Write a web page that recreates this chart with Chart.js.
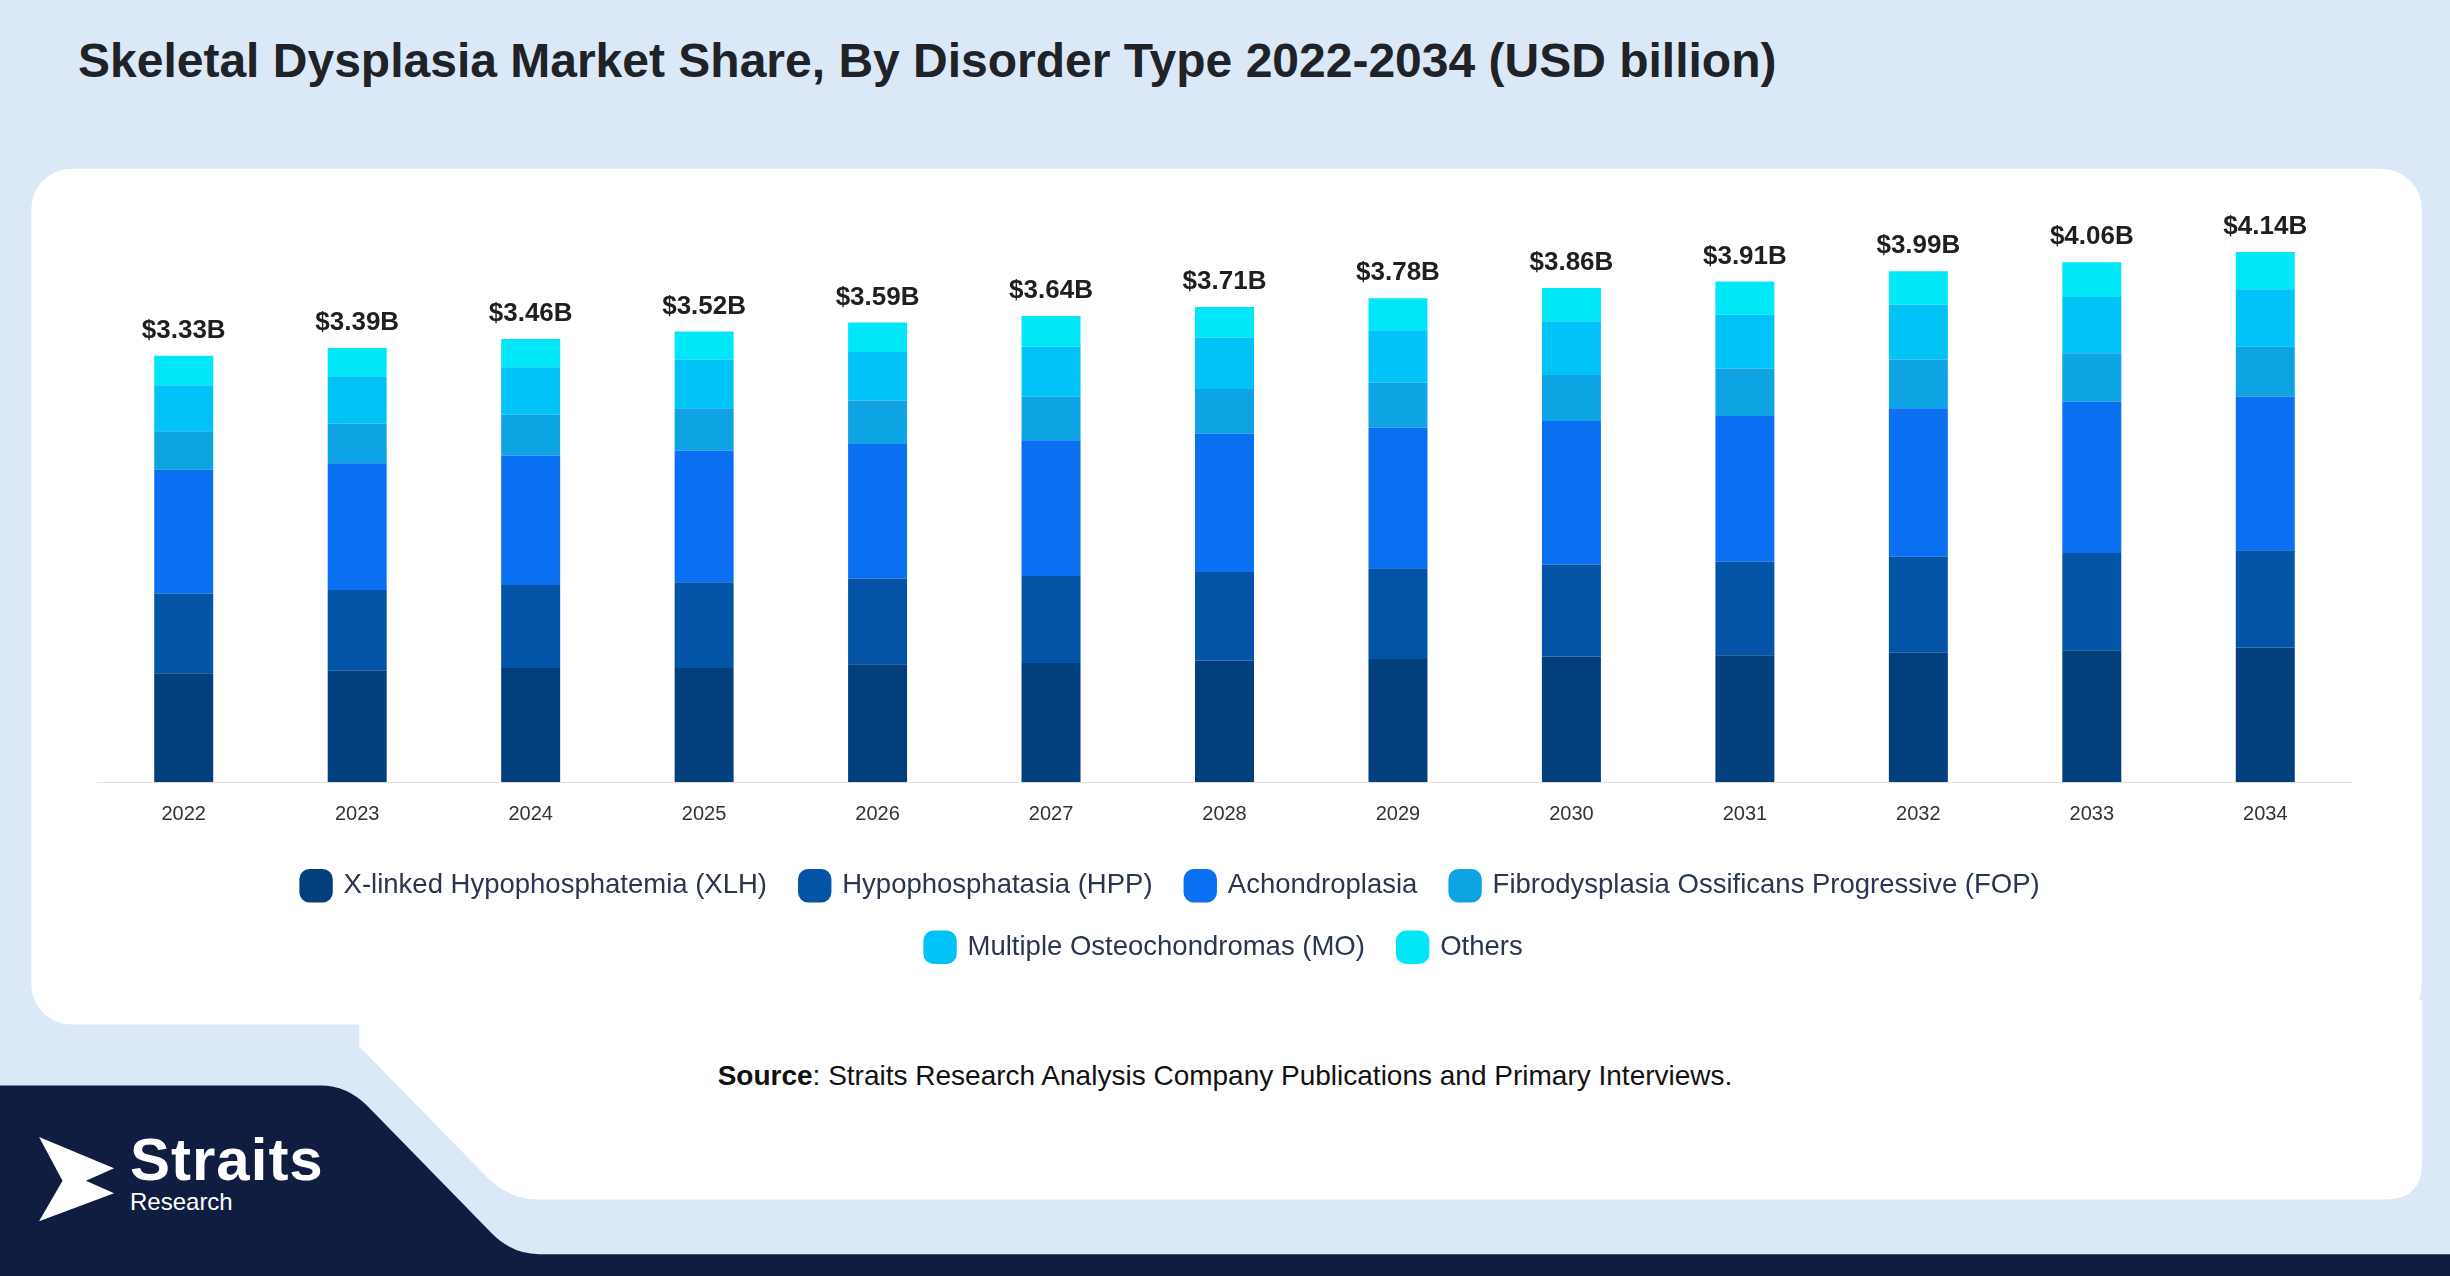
<!DOCTYPE html>
<html><head><meta charset="utf-8">
<script src="https://cdn.jsdelivr.net/npm/chart.js@4.4.1/dist/chart.umd.min.js"></script>
<style>
html,body{margin:0;padding:0;width:2450px;height:1276px;overflow:hidden;background:#dbe8f8;font-family:"Liberation Sans",Arial,sans-serif}
#bg{position:absolute;left:0;top:0;width:2450px;height:1276px}
#title{position:absolute;left:78px;top:33px;font-size:48px;font-weight:bold;color:#1f2328}
#wrap{position:absolute;left:0;top:6px;width:2450px;height:975px}
#src{position:absolute;left:0;width:2450px;top:1060px;text-align:center;font-size:28px;color:#111}
#logo{position:absolute;left:36px;top:1125px;color:#fff}
</style></head><body>
<svg id="bg" viewBox="0 0 1568 817" preserveAspectRatio="none">
<rect x="0" y="0" width="1568" height="817" fill="#dbe8f8"/>
<rect x="20" y="108" width="1530" height="548" rx="26" fill="#fff"/>
<path d="M230 640 L1550 640 L1550 745 Q1550 768 1527 768 L345 768 Q325 768 310 752 L230 670 Z" fill="#fff"/>
<path d="M0 695 L205 695 Q222 695 235 708 L315 790 Q328 803 345 803 L1568 803 L1568 817 L0 817 Z" fill="#101c40"/>
<path d="M25 728 L73 748 L55 756 L73 764 L25 782 L40 756 Z" fill="#fff"/>
</svg>
<div id="title">Skeletal Dysplasia Market Share, By Disorder Type 2022-2034 (USD billion)</div>
<div id="wrap"><canvas id="c" width="2450" height="975"></canvas></div>
<div id="src"><b>Source</b>: Straits Research Analysis Company Publications and Primary Interviews.</div>
<div id="logo"><div style="position:absolute;left:94px;top:0;font-size:60px;font-weight:bold;letter-spacing:1px">Straits</div><div style="position:absolute;left:94px;top:63px;font-size:24px">Research</div></div>
<script>
const years=["2022","2023","2024","2025","2026","2027","2028","2029","2030","2031","2032","2033","2034"];
const totals=[3.33,3.39,3.46,3.52,3.59,3.64,3.71,3.78,3.86,3.91,3.99,4.06,4.14];
const xlh=[0.85,0.87,0.89,0.89,0.92,0.93,0.95,0.96,0.98,0.99,1.01,1.03,1.05];
const hpp=[0.62,0.63,0.65,0.67,0.67,0.68,0.69,0.71,0.72,0.73,0.75,0.76,0.76];
const ach=[0.97,0.99,1.01,1.03,1.05,1.06,1.08,1.10,1.12,1.14,1.16,1.18,1.20];
const fop=[0.30,0.31,0.32,0.33,0.34,0.34,0.35,0.35,0.36,0.37,0.38,0.38,0.39];
const mo=[0.36,0.37,0.37,0.38,0.38,0.39,0.40,0.41,0.42,0.42,0.43,0.44,0.45];
const others=[0.23,0.22,0.22,0.22,0.23,0.24,0.24,0.25,0.26,0.26,0.26,0.27,0.29];
const names=["X-linked Hypophosphatemia (XLH)","Hypophosphatasia (HPP)","Achondroplasia","Fibrodysplasia Ossificans Progressive (FOP)","Multiple Osteochondromas (MO)","Others"];
const colors=["#033f7c","#0353a6","#0a6ff0","#0ea3e2","#00c3f7","#00e8f7"];
const series=[xlh,hpp,ach,fop,mo,others];
const labelPlugin={id:"totals",afterDatasetsDraw(ch){const ctx=ch.ctx;const meta=ch.getDatasetMeta(5);ctx.save();ctx.font="bold 26px 'Liberation Sans',Arial";ctx.fillStyle="#1f1f1f";ctx.textAlign="center";ctx.textBaseline="bottom";
meta.data.forEach((b,i)=>ctx.fillText("$"+totals[i].toFixed(2)+"B",b.x,b.y-12));ctx.restore();}};
new Chart(document.getElementById("c"),{type:"bar",
data:{labels:years,datasets:series.map((d,i)=>({label:names[i],data:d,backgroundColor:colors[i],barPercentage:0.68,categoryPercentage:0.5}))},
options:{responsive:false,animation:false,devicePixelRatio:1,
layout:{padding:{left:97,right:98,top:200,bottom:10}},
plugins:{legend:{position:"bottom",labels:{font:{size:27.5,family:"'Liberation Sans',Arial"},color:"#2a3550",usePointStyle:true,pointStyle:"rectRounded",boxWidth:34,boxHeight:34,padding:34,
generateLabels(ch){const l=Chart.defaults.plugins.legend.labels.generateLabels(ch);l[3].text=l[3].text+"              ";return l;}}},tooltip:{enabled:false}},
scales:{x:{stacked:true,grid:{display:false},border:{color:"#e2e2e2"},ticks:{font:{size:20},color:"#333",padding:12}},
y:{stacked:true,min:0,max:4.5,display:false}}},
plugins:[labelPlugin]});
</script></body></html>
